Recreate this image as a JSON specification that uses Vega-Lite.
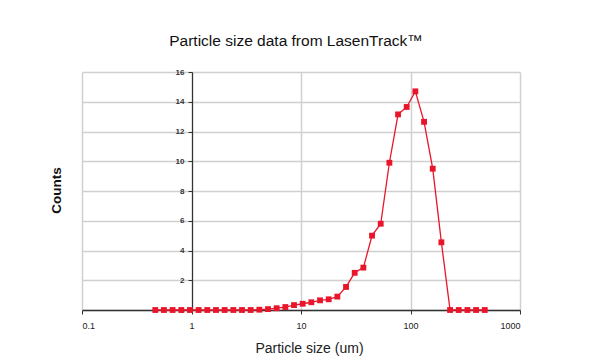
{
  "$schema": "https://vega.github.io/schema/vega-lite/v6.json",
  "autosize": "none",
  "width": 438,
  "height": 238,
  "padding": {"left": 82, "top": 72, "right": 88, "bottom": 53},
  "background": "white",
  "config": {
    "font": "Liberation Sans",
    "view": {"stroke": null},
    "axis": {"labelFont": "Liberation Sans", "titleFont": "Liberation Sans"}
  },
  "title": {
    "text": "Particle size data from LasenTrack™",
    "fontSize": 15.5,
    "fontWeight": "normal",
    "color": "#111",
    "offset": 19,
    "dx": -5
  },
  "data": {
    "values": [
      {"size": 0.467, "count": 0},
      {"size": 0.560, "count": 0},
      {"size": 0.672, "count": 0},
      {"size": 0.807, "count": 0},
      {"size": 0.968, "count": 0},
      {"size": 1.162, "count": 0},
      {"size": 1.394, "count": 0},
      {"size": 1.673, "count": 0},
      {"size": 2.008, "count": 0},
      {"size": 2.409, "count": 0},
      {"size": 2.891, "count": 0},
      {"size": 3.470, "count": 0},
      {"size": 4.164, "count": 0.02},
      {"size": 4.996, "count": 0.06},
      {"size": 5.995, "count": 0.12},
      {"size": 7.194, "count": 0.2},
      {"size": 8.633, "count": 0.33},
      {"size": 10.36, "count": 0.42},
      {"size": 12.43, "count": 0.52},
      {"size": 14.92, "count": 0.65},
      {"size": 17.90, "count": 0.72},
      {"size": 21.48, "count": 0.9},
      {"size": 25.78, "count": 1.55},
      {"size": 30.93, "count": 2.5},
      {"size": 37.12, "count": 2.85},
      {"size": 44.54, "count": 5.0},
      {"size": 53.45, "count": 5.8},
      {"size": 64.14, "count": 9.9},
      {"size": 76.97, "count": 13.15},
      {"size": 92.36, "count": 13.65},
      {"size": 110.8, "count": 14.7},
      {"size": 133.0, "count": 12.65},
      {"size": 159.6, "count": 9.5},
      {"size": 191.5, "count": 4.55},
      {"size": 229.8, "count": 0},
      {"size": 275.8, "count": 0},
      {"size": 331.0, "count": 0},
      {"size": 397.2, "count": 0},
      {"size": 476.6, "count": 0}
    ]
  },
  "encoding": {
    "x": {
      "field": "size",
      "type": "quantitative",
      "scale": {"type": "log", "domain": [0.1, 1000], "nice": false},
      "axis": {
        "values": [0.1, 1, 10, 100, 1000],
        "format": "~g",
        "title": "Particle size (um)",
        "titleFontSize": 14,
        "titleFontWeight": "normal",
        "titleColor": "#222",
        "titlePadding": 11,
        "titleX": 227,
        "labelFontSize": 9,
        "labelColor": "#222",
        "labelPadding": 7,
        "tickSize": 4,
        "tickColor": "#333",
        "domainColor": "#333",
        "domainWidth": 1.5,
        "gridColor": "#d0d0d0",
        "gridWidth": 1.5
      }
    },
    "y": {
      "field": "count",
      "type": "quantitative",
      "scale": {"domain": [0, 16], "nice": false},
      "axis": {
        "values": [0, 2, 4, 6, 8, 10, 12, 14, 16],
        "offset": -110,
        "labelOverlap": false,
        "title": "Counts",
        "titleFontSize": 13.5,
        "titleFontWeight": "bold",
        "titleColor": "#111",
        "titleX": -136,
        "titleY": 118,
        "titleAngle": -90,
        "titleBaseline": "middle",
        "labelFontSize": 8,
        "labelFontWeight": "bold",
        "labelColor": "#333",
        "labelPadding": 4,
        "tickSize": 4,
        "tickColor": "#333",
        "domainColor": "#333",
        "domainWidth": 1.2,
        "gridColor": "#d0d0d0",
        "gridWidth": 1.5
      }
    }
  },
  "mark": {
    "type": "line",
    "color": "#e8152b",
    "strokeWidth": 1.3,
    "point": {"shape": "square", "size": 34, "filled": true, "color": "#e8152b", "opacity": 1}
  }
}
